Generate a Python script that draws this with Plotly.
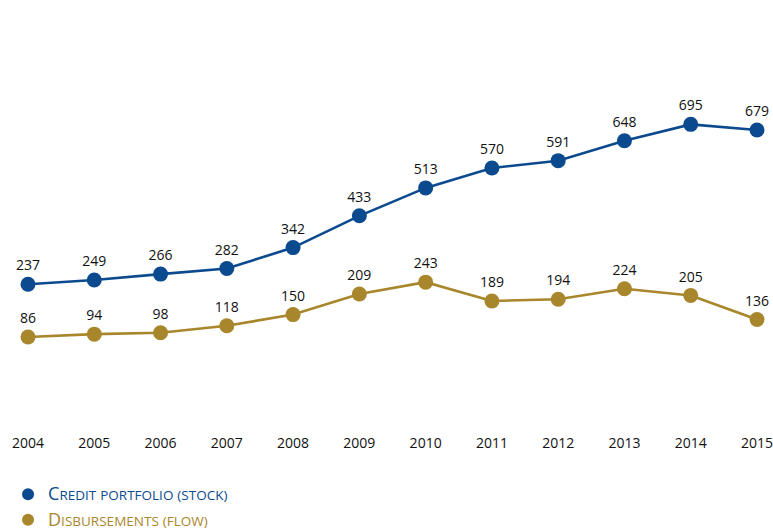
import plotly.graph_objects as go

years = [2004, 2005, 2006, 2007, 2008, 2009, 2010, 2011, 2012, 2013, 2014, 2015]
credit_portfolio = [237, 249, 266, 282, 342, 433, 513, 570, 591, 648, 695, 679]
disbursements = [86, 94, 98, 118, 150, 209, 243, 189, 194, 224, 205, 136]

BLUE = "#0b4a8e"
GOLD = "#a8862b"


def small_caps(label, color, size_big=18, size_small=13.5):
    """Render a label as small caps: first letter of each word full size."""
    out = []
    for word in label.split(" "):
        pieces = []
        for ch in word:
            if ch.isupper():
                pieces.append(f"<span style='font-size:{size_big}px'>{ch}</span>")
            else:
                pieces.append(f"<span style='font-size:{size_small}px'>{ch.upper()}</span>")
        out.append("".join(pieces))
    return f"<span style='color:{color}'>" + " ".join(out) + "</span>"


series = [
    ("Credit portfolio (stock)", credit_portfolio, BLUE),
    ("Disbursements (flow)", disbursements, GOLD),
]

fig = go.Figure()
for name, vals, color in series:
    fig.add_trace(go.Scatter(
        x=years, y=vals, mode="lines+markers+text",
        showlegend=False,
        line=dict(color=color, width=2.6),
        marker=dict(color=color, size=15, line=dict(width=0)),
        text=[str(v) for v in vals],
        textposition="top center",
        textfont=dict(family="Open Sans, sans-serif", size=14, color="#111111"),
        cliponaxis=False,
    ))

# legend entries show the marker only
for name, vals, color in series:
    fig.add_trace(go.Scatter(
        x=[None], y=[None], mode="markers",
        name=small_caps(name, color), legendgroup=name,
        marker=dict(color=color, size=15, line=dict(width=0)),
    ))

fig.update_layout(
    width=773, height=531,
    margin=dict(l=28, r=16, t=20, b=104, autoexpand=False),
    paper_bgcolor="white", plot_bgcolor="white",
    showlegend=True,
    legend=dict(
        orientation="v", xref="container", yref="container",
        x=0.0104, y=0.1, xanchor="left", yanchor="top",
        font=dict(family="Open Sans, sans-serif", size=15),
        itemsizing="constant", itemwidth=30, tracegroupgap=3,
        bgcolor="rgba(0,0,0,0)",
    ),
    xaxis=dict(
        range=[2004, 2015], tickmode="array", tickvals=years,
        ticktext=[str(y) for y in years],
        showgrid=False, zeroline=False, showline=False,
        tickfont=dict(family="Open Sans, sans-serif", size=14, color="#111111"),
        ticks="", ticklabelstandoff=6, ticklabeloverflow="allow",
    ),
    yaxis=dict(range=[-172, 994], visible=False, showgrid=False, zeroline=False),
)

fig.write_html("out.html")
